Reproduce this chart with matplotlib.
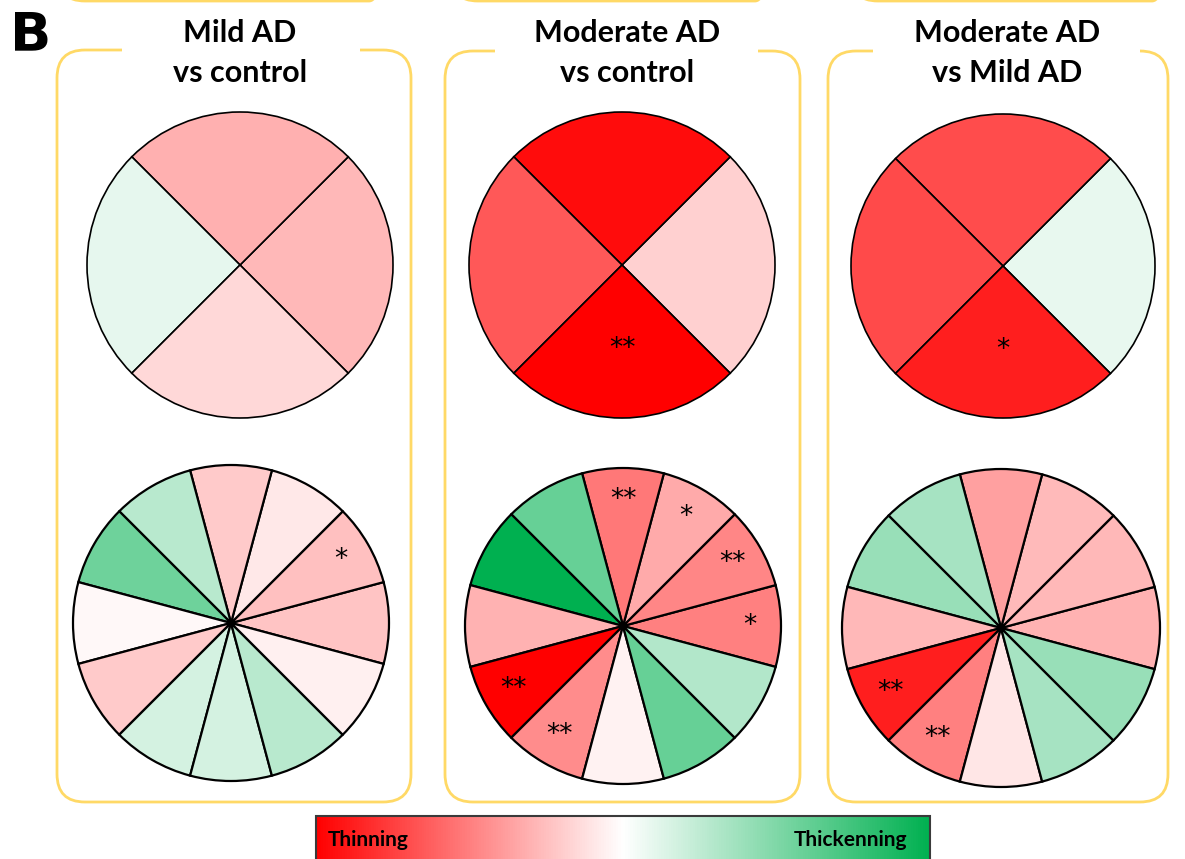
import numpy as np
import matplotlib.pyplot as plt
from matplotlib.colors import LinearSegmentedColormap, Normalize
from matplotlib.cm import ScalarMappable
from matplotlib.patches import FancyBboxPatch, Rectangle

W, H = 1185, 859

titles = [("Mild AD", "vs control"),
          ("Moderate AD", "vs control"),
          ("Moderate AD", "vs Mild AD")]

# thickness change per region: -1 = strongest thinning, +1 = strongest thickening
# quadrants, counter-clockwise from 3 o'clock: right, top, left, bottom
quad_vals = [
    [-0.28, -0.31, 0.10, -0.15],
    [-0.18, -0.95, -0.65, -1.00],
    [0.09, -0.70, -0.71, -0.88],
]
quad_sig = [
    ["", "", "", ""],
    ["", "", "", "**"],
    ["", "", "", "*"],
]
# 12 clock-hour sectors, counter-clockwise from 3 o'clock
sect_vals = [
    [-0.23, -0.25, -0.09, -0.21, 0.28, 0.57, -0.03, -0.21, 0.17, 0.17, 0.28, -0.06],
    [-0.50, -0.47, -0.33, -0.53, 0.60, 1.00, -0.30, -1.00, -0.45, -0.05, 0.60, 0.30],
    [-0.30, -0.28, -0.27, -0.37, 0.35, 0.40, -0.28, -0.88, -0.50, -0.10, 0.35, 0.40],
]
sect_sig = [
    ["", "*", "", "", "", "", "", "", "", "", "", ""],
    ["*", "**", "*", "**", "", "", "", "**", "**", "", "", ""],
    ["", "", "", "", "", "", "", "**", "**", "", "", ""],
]

# layout in pixels
boxes = [(57, 50, 411, 802), (445, 51, 800, 802), (828, 51, 1168, 802)]
gaps = [(122, 360), (495, 758), (873, 1140)]
title_x = [240, 627, 1007]
prev_boxes = [(57, 397), (450, 783), (850, 1180)]
top_pies = [(240, 265, 153), (622, 265, 153), (1003, 266, 152)]
bot_pies = [(231, 623, 158), (623, 626, 158), (1001, 628, 159)]

cmap = LinearSegmentedColormap.from_list(
    "thin_thick", ["#ff0000", "#ffffff", "#00b050"])
norm = Normalize(-1, 1)
box_col = "#ffd966"


def px_axes(fig, x0, y0, x1, y1):
    return fig.add_axes([x0 / W, 1 - y1 / H, (x1 - x0) / W, (y1 - y0) / H])


def draw_pie(fig, cx, cy, r, vals, sig, start, ldist, lw):
    pad = 1.08
    ax = px_axes(fig, cx - pad * r, cy - pad * r, cx + pad * r, cy + pad * r)
    _, texts = ax.pie(np.ones(len(vals)), colors=cmap(norm(vals)),
                      startangle=start, counterclock=True, labels=sig,
                      labeldistance=ldist,
                      wedgeprops=dict(edgecolor="black", linewidth=lw),
                      textprops=dict(fontsize=19, family="DejaVu Sans"))
    for t in texts:
        t.set_ha("center")
        t.set_va("center")
    ax.set_xlim(-pad, pad)
    ax.set_ylim(-pad, pad)
    ax.set_aspect("equal")


fig = plt.figure(figsize=(W / 100, H / 100), dpi=100)
bg = fig.add_axes([0, 0, 1, 1])
bg.set_xlim(0, W)
bg.set_ylim(H, 0)
bg.axis("off")

# bottoms of the boxes from the row above
for x0, x1 in prev_boxes:
    bg.add_patch(FancyBboxPatch((x0, -300), x1 - x0, 301,
                                boxstyle="round,pad=0,rounding_size=28",
                                facecolor="none", edgecolor=box_col, lw=2))

for i in range(3):
    x0, y0, x1, y1 = boxes[i]
    bg.add_patch(FancyBboxPatch((x0, y0), x1 - x0, y1 - y0,
                                boxstyle="round,pad=0,rounding_size=28",
                                facecolor="none", edgecolor=box_col, lw=2))
    g0, g1 = gaps[i]
    bg.add_patch(Rectangle((g0, y0 - 10), g1 - g0, 20, facecolor="white",
                           edgecolor="none", zorder=3))
    bg.text(title_x[i], 42, titles[i][0], ha="center", va="baseline",
            fontsize=22, fontweight="bold", family="Lato", zorder=4)
    bg.text(title_x[i], 82, titles[i][1], ha="center", va="baseline",
            fontsize=22, fontweight="bold", family="Lato", zorder=4)

bg.text(10, 50, "B", ha="left", va="baseline", fontsize=39,
        fontweight="black", family="DejaVu Sans")

for i in range(3):
    cx, cy, r = top_pies[i]
    draw_pie(fig, cx, cy, r, quad_vals[i], quad_sig[i], -45, 0.55, 1.2)
    cx, cy, r = bot_pies[i]
    draw_pie(fig, cx, cy, r, sect_vals[i], sect_sig[i], -15, 0.8, 1.6)

# colour scale
cax = px_axes(fig, 316, 816, 930, 866)
cb = fig.colorbar(ScalarMappable(norm=norm, cmap=cmap), cax=cax,
                  orientation="horizontal")
cb.set_ticks([])
cb.outline.set_edgecolor("#3a3a3a")
cb.outline.set_linewidth(1.5)
fig.text(328 / W, 1 - 846 / H, "Thinning", ha="left", va="baseline",
         fontsize=15, fontweight="bold", family="Lato")
fig.text(907 / W, 1 - 846 / H, "Thickenning", ha="right", va="baseline",
         fontsize=15, fontweight="bold", family="Lato")

fig.savefig("out.png", dpi=100)
